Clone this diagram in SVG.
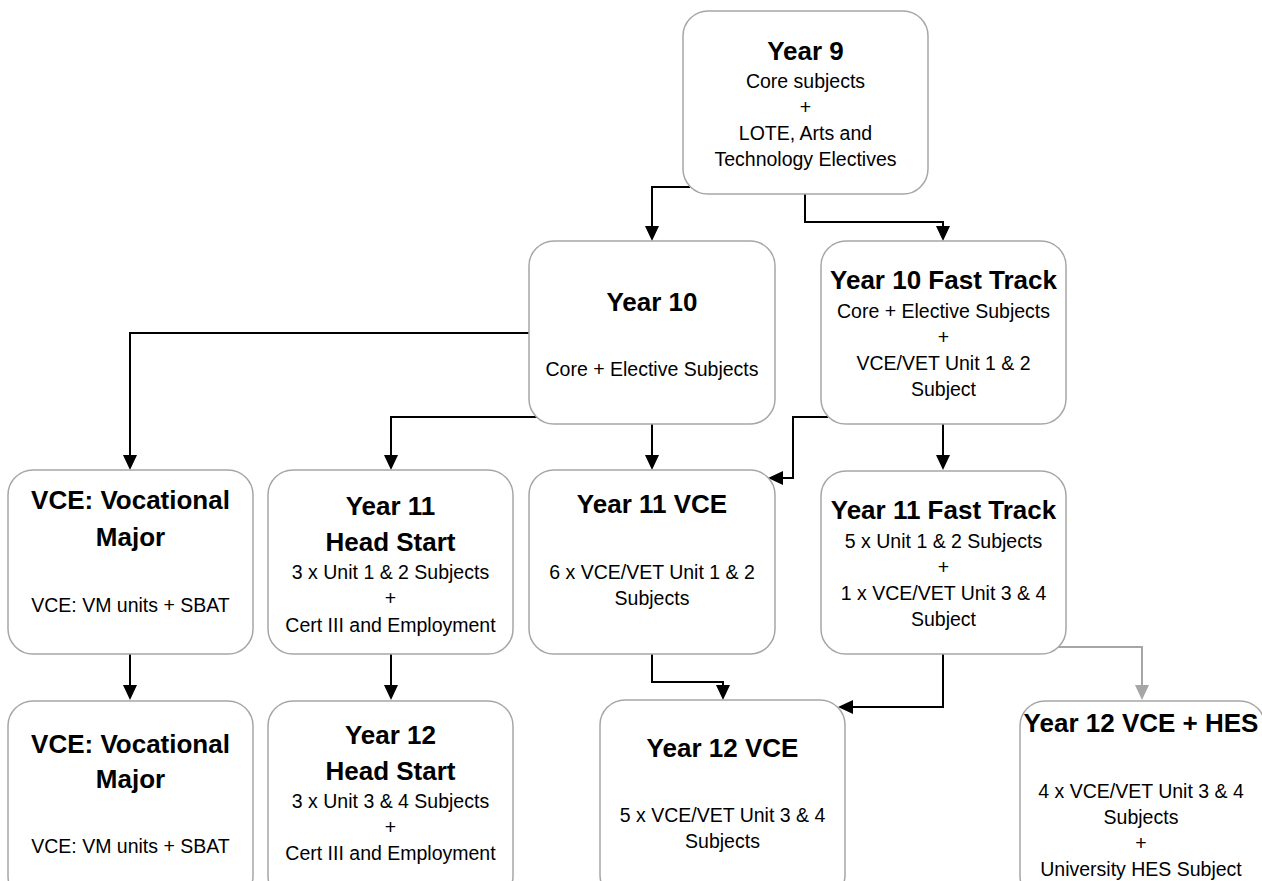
<svg xmlns="http://www.w3.org/2000/svg" width="1262" height="881" viewBox="0 0 1262 881">
<style>
.box{fill:#fff;stroke:#a6a6a6;stroke-width:1.5}
.t{font-family:"Liberation Sans",Arial,sans-serif;font-weight:bold;font-size:26px;fill:#000;text-anchor:middle}
.b{font-family:"Liberation Sans",Arial,sans-serif;font-size:19.5px;fill:#000;text-anchor:middle}
.c{fill:none;stroke:#000;stroke-width:2}
.g{fill:none;stroke:#a6a6a6;stroke-width:2}
</style>
<defs>
<marker id="ah" viewBox="0 0 15 14" refX="12" refY="7" markerWidth="15" markerHeight="14" markerUnits="userSpaceOnUse" orient="auto"><path d="M0,0 L15,7 L0,14 z" fill="#000"/></marker>
<marker id="ahg" viewBox="0 0 15 14" refX="12" refY="7" markerWidth="15" markerHeight="14" markerUnits="userSpaceOnUse" orient="auto"><path d="M0,0 L15,7 L0,14 z" fill="#a6a6a6"/></marker>
</defs>
<rect width="1262" height="881" fill="#fff"/>
<g id="connectors">
<path class="c" d="M690,187 H652 V238" marker-end="url(#ah)"/>
<path class="c" d="M805,194 V222 H943 V238" marker-end="url(#ah)"/>
<path class="c" d="M529,333 H130 V467" marker-end="url(#ah)"/>
<path class="c" d="M537,417 H391 V467" marker-end="url(#ah)"/>
<path class="c" d="M652,424 V467" marker-end="url(#ah)"/>
<path class="c" d="M828,417 H793 V478 H771" marker-end="url(#ah)"/>
<path class="c" d="M943,424 V467" marker-end="url(#ah)"/>
<path class="c" d="M130,654 V697" marker-end="url(#ah)"/>
<path class="c" d="M391,654 V697" marker-end="url(#ah)"/>
<path class="c" d="M652,654 V682 H723 V697" marker-end="url(#ah)"/>
<path class="c" d="M943,654 V707 H841" marker-end="url(#ah)"/>
<path class="g" d="M1058,647 H1142 V697" marker-end="url(#ahg)"/>
</g>
<g id="year9">
<rect class="box" x="683" y="11" width="245" height="183" rx="25"/>
<text class="t" x="805.5" y="60">Year 9</text>
<text class="b" x="805.5" y="88">Core subjects</text>
<text class="b" x="805.5" y="114">+</text>
<text class="b" x="805.5" y="140">LOTE, Arts and</text>
<text class="b" x="805.5" y="166">Technology Electives</text>
</g>
<g id="year10">
<rect class="box" x="529" y="241" width="246" height="183" rx="25"/>
<text class="t" x="652" y="311">Year 10</text>
<text class="b" x="652" y="376">Core + Elective Subjects</text>
</g>
<g id="year10ft">
<rect class="box" x="821" y="241" width="245" height="183" rx="25"/>
<text class="t" x="943.5" y="289">Year 10 Fast Track</text>
<text class="b" x="943.5" y="318">Core + Elective Subjects</text>
<text class="b" x="943.5" y="344">+</text>
<text class="b" x="943.5" y="370">VCE/VET Unit 1 &amp; 2</text>
<text class="b" x="943.5" y="396">Subject</text>
</g>
<g id="vm11">
<rect class="box" x="8" y="470" width="245" height="184" rx="25"/>
<text class="t" x="130.5" y="509">VCE: Vocational</text>
<text class="t" x="130.5" y="546">Major</text>
<text class="b" x="130.5" y="612">VCE: VM units + SBAT</text>
</g>
<g id="hs11">
<rect class="box" x="268" y="470" width="245" height="184" rx="25"/>
<text class="t" x="390.5" y="515">Year 11</text>
<text class="t" x="390.5" y="551">Head Start</text>
<text class="b" x="390.5" y="579">3 x Unit 1 &amp; 2 Subjects</text>
<text class="b" x="390.5" y="605">+</text>
<text class="b" x="390.5" y="632">Cert III and Employment</text>
</g>
<g id="vce11">
<rect class="box" x="529" y="470" width="246" height="184" rx="25"/>
<text class="t" x="652" y="513">Year 11 VCE</text>
<text class="b" x="652" y="579">6 x VCE/VET Unit 1 &amp; 2</text>
<text class="b" x="652" y="605">Subjects</text>
</g>
<g id="ft11">
<rect class="box" x="821" y="471" width="245" height="183" rx="25"/>
<text class="t" x="943.5" y="519">Year 11 Fast Track</text>
<text class="b" x="943.5" y="548">5 x Unit 1 &amp; 2 Subjects</text>
<text class="b" x="943.5" y="574">+</text>
<text class="b" x="943.5" y="600">1 x VCE/VET Unit 3 &amp; 4</text>
<text class="b" x="943.5" y="626">Subject</text>
</g>
<g id="vm12">
<rect class="box" x="8" y="701" width="245" height="200" rx="25"/>
<text class="t" x="130.5" y="753">VCE: Vocational</text>
<text class="t" x="130.5" y="788">Major</text>
<text class="b" x="130.5" y="853">VCE: VM units + SBAT</text>
</g>
<g id="hs12">
<rect class="box" x="268" y="701" width="245" height="200" rx="25"/>
<text class="t" x="390.5" y="744">Year 12</text>
<text class="t" x="390.5" y="780">Head Start</text>
<text class="b" x="390.5" y="808">3 x Unit 3 &amp; 4 Subjects</text>
<text class="b" x="390.5" y="834">+</text>
<text class="b" x="390.5" y="860">Cert III and Employment</text>
</g>
<g id="vce12">
<rect class="box" x="600" y="700" width="245" height="200" rx="25"/>
<text class="t" x="722.5" y="757">Year 12 VCE</text>
<text class="b" x="722.5" y="822">5 x VCE/VET Unit 3 &amp; 4</text>
<text class="b" x="722.5" y="848">Subjects</text>
</g>
<g id="hes12">
<rect class="box" x="1020" y="701" width="245" height="200" rx="25"/>
<text class="t" x="1141" y="732">Year 12 VCE + HES</text>
<text class="b" x="1141" y="798">4 x VCE/VET Unit 3 &amp; 4</text>
<text class="b" x="1141" y="824">Subjects</text>
<text class="b" x="1141" y="850">+</text>
<text class="b" x="1141" y="876">University HES Subject</text>
</g>
</svg>
